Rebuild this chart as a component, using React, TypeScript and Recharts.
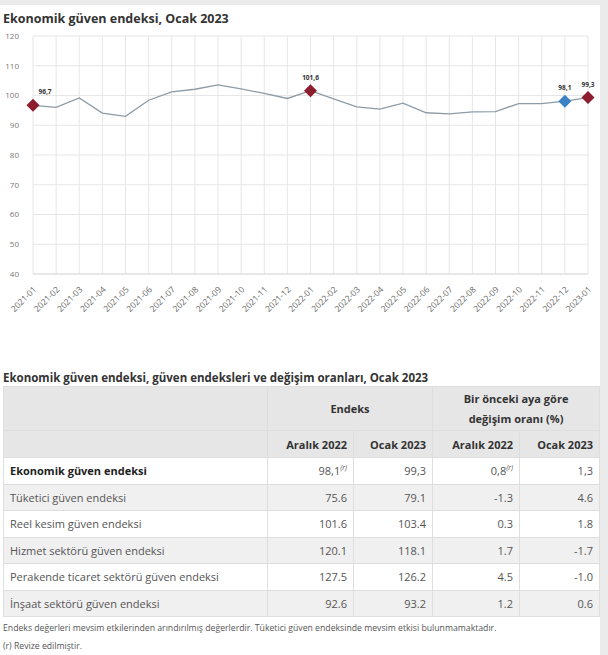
import React from "react";
import { LineChart, Line, XAxis, YAxis, CartesianGrid } from "recharts";

const months = [
  "2021-01", "2021-02", "2021-03", "2021-04", "2021-05", "2021-06", "2021-07",
  "2021-08", "2021-09", "2021-10", "2021-11", "2021-12", "2022-01", "2022-02",
  "2022-03", "2022-04", "2022-05", "2022-06", "2022-07", "2022-08", "2022-09",
  "2022-10", "2022-11", "2022-12", "2023-01",
];
const values = [
  96.7, 96.0, 99.2, 94.1, 93.0, 98.4, 101.2, 102.1, 103.6, 102.2, 100.7, 99.0,
  101.6, 98.9, 96.2, 95.4, 97.4, 94.2, 93.8, 94.5, 94.6, 97.3, 97.3, 98.1, 99.3,
];
const yTicks = [40, 50, 60, 70, 80, 90, 100, 110, 120];
const markedMonths = ["2021-01", "2022-01", "2022-12", "2023-01"];
const markedColors = ["#8c1c2e", "#8c1c2e", "#3b82c4", "#8c1c2e"];

const rowNames = [
  "Ekonomik güven endeksi",
  "Tüketici güven endeksi",
  "Reel kesim güven endeksi",
  "Hizmet sektörü güven endeksi",
  "Perakende ticaret sektörü güven endeksi",
  "İnşaat sektörü güven endeksi",
];
const indexDec2022 = ["98,1", "75.6", "101.6", "120.1", "127.5", "92.6"];
const indexJan2023 = ["99,3", "79.1", "103.4", "118.1", "126.2", "93.2"];
const changeDec2022 = ["0,8", "-1.3", "0.3", "1.7", "4.5", "1.2"];
const changeJan2023 = ["1,3", "4.6", "1.8", "-1.7", "-1.0", "0.6"];
const revisedCells = ["0-0", "0-2"];

const data = months.map((m, i) => ({ month: m, value: values[i] }));

const FONT = "'Open Sans', 'Noto Sans', sans-serif";

function XTick(props: any) {
  const { x, y, payload } = props;
  return (
    <g transform={`translate(${x + 4},${y + 8}) rotate(-45)`}>
      <text textAnchor="end" fontSize={8.5} fill="#666" fontFamily={FONT}>
        {payload.value}
      </text>
    </g>
  );
}

function MarkerDot(props: any) {
  const { cx, cy, payload, index } = props;
  const k = markedMonths.indexOf(payload.month);
  if (k < 0 || cx == null) return <g key={`d-${index}`} />;
  const r = 6.5;
  const lx = index === 0 ? cx + 12 : cx;
  return (
    <g key={`d-${index}`}>
      <path
        d={`M${cx},${cy - r} L${cx + r},${cy} L${cx},${cy + r} L${cx - r},${cy} Z`}
        fill={markedColors[k]}
      />
      <text
        x={lx}
        y={cy - 11}
        textAnchor="middle"
        fontSize={6.5}
        fontWeight="bold"
        fill="#333"
        fontFamily={FONT}
      >
        {payload.value.toFixed(1).replace(".", ",")}
      </text>
    </g>
  );
}

const cellBase: React.CSSProperties = {
  border: "1px solid #dedede",
  padding: "0 6px",
  fontSize: 11,
};

export default function App() {
  return (
    <div
      style={{
        position: "absolute",
        left: 0,
        top: 0,
        width: 608,
        height: 655,
        background: "#ebebeb",
        fontFamily: FONT,
        overflow: "hidden",
      }}
    >
      <div
        style={{
          position: "absolute",
          left: 0,
          top: 5,
          width: 600,
          height: 650,
          background: "#fff",
        }}
      >
        <div
          style={{
            position: "absolute",
            left: 3,
            top: 5,
            fontSize: 12.5,
            fontWeight: 700,
            color: "#333",
          }}
        >
          Ekonomik güven endeksi, Ocak 2023
        </div>
        <div style={{ position: "absolute", left: 0, top: -5 }}>
          <LineChart
            width={608}
            height={330}
            data={data}
            margin={{ top: 36, right: 20, bottom: 0, left: 0 }}
          >
            <CartesianGrid stroke="#e6e6e6" />
            <XAxis
              dataKey="month"
              interval={0}
              height={56}
              tick={<XTick />}
              tickLine={false}
              axisLine={{ stroke: "#dcdcdc" }}
            />
            <YAxis
              width={33}
              domain={[40, 120]}
              ticks={yTicks}
              tickLine={false}
              axisLine={false}
              tick={{ fontSize: 8, fill: "#777", fontFamily: FONT }}
              tickMargin={8}
            />
            <Line
              dataKey="value"
              stroke="#8d9ba6"
              strokeWidth={1.3}
              dot={<MarkerDot />}
              activeDot={false}
              isAnimationActive={false}
            />
          </LineChart>
        </div>

        <div
          style={{
            position: "absolute",
            left: 3,
            top: 365,
            fontSize: 11.5,
            fontWeight: 700,
            color: "#333",
          }}
        >
          Ekonomik güven endeksi, güven endeksleri ve değişim oranları, Ocak 2023
        </div>
        <table
          style={{
            position: "absolute",
            left: 3,
            top: 381,
            width: 596,
            borderCollapse: "collapse",
            color: "#555",
            tableLayout: "fixed",
          }}
        >
          <colgroup>
            <col style={{ width: 264 }} />
            <col style={{ width: 86 }} />
            <col style={{ width: 79 }} />
            <col style={{ width: 87 }} />
            <col style={{ width: 80 }} />
          </colgroup>
          <thead>
            <tr style={{ background: "#e6e6e6", height: 44 }}>
              <th style={cellBase}></th>
              <th
                colSpan={2}
                style={{ ...cellBase, textAlign: "center", color: "#333", lineHeight: "20px" }}
              >
                Endeks
              </th>
              <th
                colSpan={2}
                style={{ ...cellBase, textAlign: "center", color: "#333", lineHeight: "20px" }}
              >
                Bir önceki aya göre
                <br />
                değişim oranı (%)
              </th>
            </tr>
            <tr style={{ background: "#e6e6e6", height: 27 }}>
              <th style={cellBase}></th>
              {["Aralık 2022", "Ocak 2023", "Aralık 2022", "Ocak 2023"].map((h, i) => (
                <th key={i} style={{ ...cellBase, textAlign: "right", color: "#333" }}>
                  {h}
                </th>
              ))}
            </tr>
          </thead>
          <tbody>
            {rowNames.map((name, r) => {
              const cols = [indexDec2022[r], indexJan2023[r], changeDec2022[r], changeJan2023[r]];
              return (
                <tr
                  key={name}
                  style={{ background: r % 2 === 1 ? "#f0f0f0" : "#fff", height: 26.5 }}
                >
                  <td
                    style={{
                      ...cellBase,
                      fontWeight: r === 0 ? 700 : 400,
                      color: r === 0 ? "#222" : "#555",
                    }}
                  >
                    {name}
                  </td>
                  {cols.map((v, c) => (
                    <td key={c} style={{ ...cellBase, textAlign: "right" }}>
                      {v}
                      {revisedCells.includes(`${r}-${c}`) && (
                        <sup style={{ fontSize: 7, fontStyle: "italic" }}>(r)</sup>
                      )}
                    </td>
                  ))}
                </tr>
              );
            })}
          </tbody>
        </table>
        <div
          style={{
            position: "absolute",
            left: 3,
            top: 617,
            fontSize: 8.7,
            color: "#555",
          }}
        >
          Endeks değerleri mevsim etkilerinden arındırılmış değerlerdir. Tüketici güven endeksinde mevsim etkisi bulunmamaktadır.
        </div>
        <div
          style={{
            position: "absolute",
            left: 3,
            top: 635,
            fontSize: 8.7,
            color: "#555",
          }}
        >
          (r) Revize edilmiştir.
        </div>
      </div>
    </div>
  );
}
